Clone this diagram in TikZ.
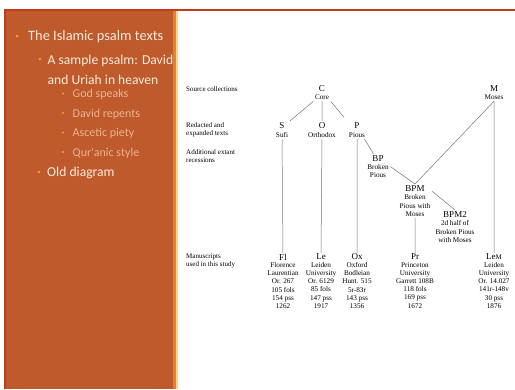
\documentclass[tikz,border=0pt]{standalone}
\usepackage{fontspec}
\setmainfont{Liberation Serif}
\newfontfamily\slidefont{Carlito}
\usetikzlibrary{positioning}
\definecolor{panel}{HTML}{BE5A2B}
\definecolor{rim}{HTML}{C23C1C}
\definecolor{edge}{HTML}{DE8233}
\definecolor{cream}{HTML}{FBEBDC}
\definecolor{faded}{HTML}{EDB392}
\definecolor{dot}{HTML}{F6A233}
\tikzset{
  fam/.style={align=center,inner sep=1.5pt,font=\fontsize{7.2}{8.2}\selectfont},
  sig/.style={inner sep=1pt,font=\fontsize{9}{9}\selectfont},
  info/.style={align=center,inner sep=0pt,font=\fontsize{7.2}{8.2}\selectfont},
  row/.style={anchor=west,align=left,inner sep=0pt,font=\fontsize{7}{8}\selectfont},
  link/.style={draw=black!55,line width=0.5pt},
  lvl1/.style={anchor=base west,inner sep=0pt,text=cream,font=\slidefont\fontsize{14.4}{19}\selectfont},
  lvl2/.style={lvl1,font=\slidefont\fontsize{13.6}{19}\selectfont},
  lvl3/.style={anchor=base west,inner sep=0pt,text=faded,font=\slidefont\fontsize{12}{14}\selectfont},
}
\newcommand\siglum[1]{{\fontsize{9}{9}\selectfont #1}}
\begin{document}
\begin{tikzpicture}[x=1pt,y=-1pt]
        \useasboundingbox (0,0) rectangle (515,389);
        % slide frame
        \fill[panel] (4,10) rectangle (177,389);
        \fill[rim] (4,10) rectangle (6,389);
        \fill[edge] (173,10) rectangle (176,389);
        \fill[dot!50] (176,10) rectangle (177.5,389);
        \fill[rim] (4,9) rectangle (515,11);
        % bullet list
        \node[lvl1] (islamic) at (28,40) {The Islamic psalm texts};
        \node[lvl2] (psalm) at (47.5,64) {A sample psalm: David};
        \node[lvl2] (uriah) at (47.5,84) {and Uriah in heaven};
        \node[lvl3] (god) at (72.5,97.5) {God speaks};
        \node[lvl3] (repents) at (72.5,117) {David repents};
        \node[lvl3] (piety) at (72.5,136.5) {Ascetic piety};
        \node[lvl3] (style) at (72.5,156) {Qur'anic style};
        \node[lvl2] (old) at (47,176) {Old diagram};
        \foreach \x/\y/\r in {17/36/1.5,40/59/1.3,63/93.5/1.1,63/113/1.1,63/132.5/1.1,63/152/1.1,39/172/1.3}
          \fill[dot] (\x,\y) circle (\r pt);
        % row labels
        \node[row] (source) at (186,89) {Source collections};
        \node[row] (redacted) at (186,129.5) {Redacted and\\expanded texts};
        \node[row] (extant) at (186,156.5) {Additional extant\\recessions};
        \node[row] (used) at (186,261) {Manuscripts\\used in this study};
        % families
        \node[fam] (C) at (322,92.5) {\siglum{C}\\Core};
        \node[fam] (S) at (282,130) {\siglum{S}\\Sufi};
        \node[fam] (O) at (322,130) {\siglum{O}\\Orthodox};
        \node[fam] (P) at (357,130) {\siglum{P}\\Pious};
        \node[fam] (BP) at (378,166.5) {\siglum{BP}\\Broken\\Pious};
        \node[fam] (BPM) at (415,201) {\siglum{BPM}\\Broken\\Pious with\\Moses};
        \node[fam] (BPM2) at (455,227) {\siglum{BPM2}\\2d half of\\Broken Pious\\with Moses};
        \node[fam] (M) at (494,92.5) {\siglum{M}\\Moses};
        % manuscripts
        \node[sig] (Fl) at (283,257) {Fl};
        \node[info,below=1pt of Fl] (Fl-t) {Florence\\Laurentian\\Or. 267\\105 fols\\154 pss\\1262};
        \node[sig] (Le) at (321,257) {Le};
        \node[info,below=1pt of Le] (Le-t) {Leiden\\University\\Or. 6129\\85 fols\\147 pss\\1917};
        \node[sig] (Ox) at (357,257) {Ox};
        \node[info,below=1pt of Ox] (Ox-t) {Oxford\\Bodleian\\Hunt. 515\\5r-83r\\143 pss\\1356};
        \node[sig] (Pr) at (415,257) {Pr};
        \node[info,below=1pt of Pr] (Pr-t) {Princeton\\University\\Garrett 108B\\118 fols\\169 pss\\1672};
        \node[sig] (LeM) at (494,257) {Le{\fontsize{7}{7}\selectfont M}};
        \node[info,below=1pt of LeM] (LeM-t) {Leiden\\University\\Or. 14.027\\141r-148v\\30 pss\\1876};
        % stemma
        \draw[link,shorten >=5pt]
        (C.south west) -- (S.north east)
        (C.south) -- (O.north)
        (C.south east) -- (P.north west);
        \draw[link]
        (S.south) -- (Fl.north)
        (O.south) -- (Le.north)
        (P.south) -- (Ox.north)
        (P.-50) -- (BP.110)
        (BP.east) -- (BPM.north)
        (M.south) -- (BPM.north)
        (BPM.30) -- (BPM2.north)
        (BPM.south) -- (Pr.north)
        (M.south) -- (LeM.north);
      \end{tikzpicture}
\end{document}
